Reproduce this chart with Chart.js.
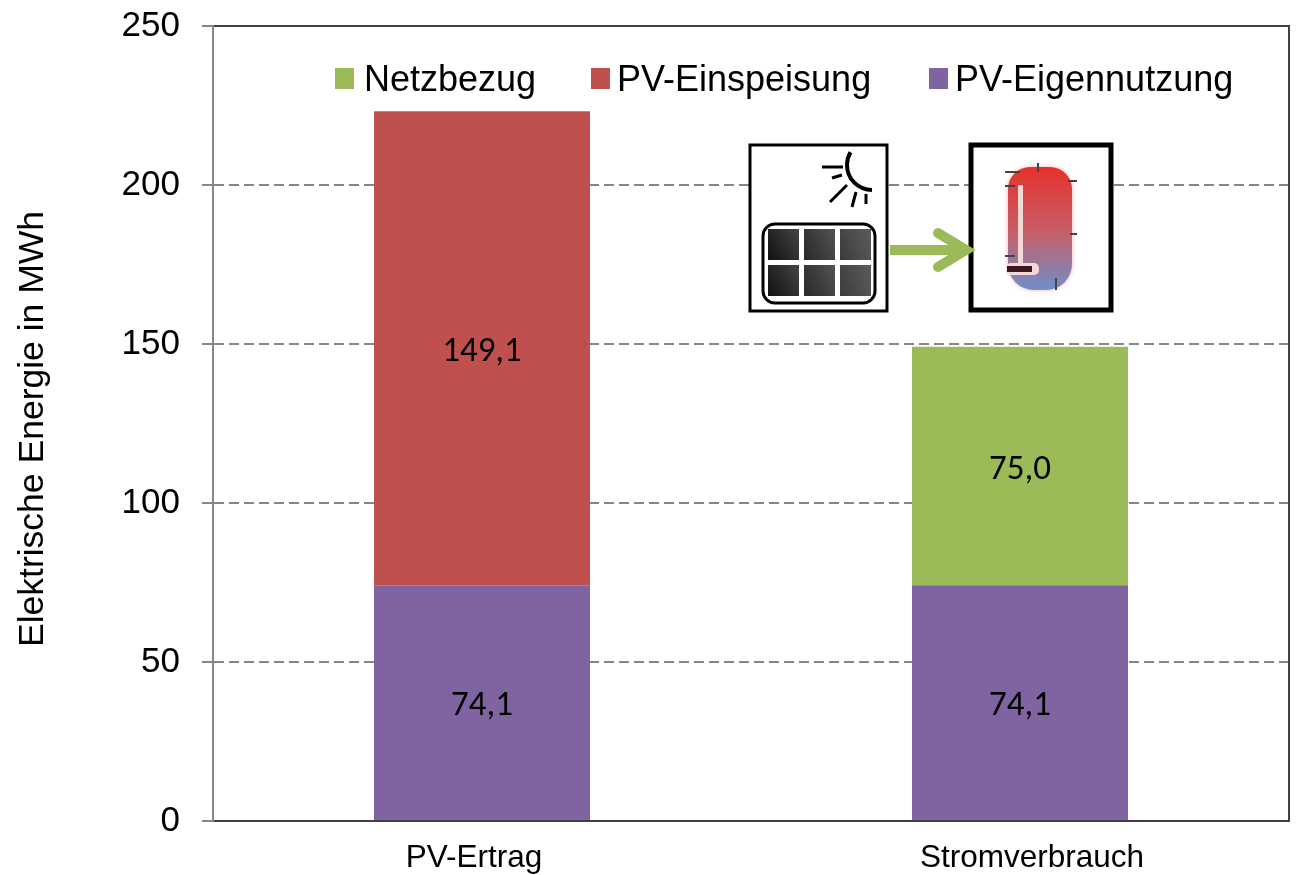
<!DOCTYPE html>
<html>
<head>
<meta charset="utf-8">
<style>
  html, body { margin: 0; padding: 0; background: #fff; }
  #wrap { position: relative; width: 1298px; height: 875px; }
</style>
<script src="https://cdn.jsdelivr.net/npm/chart.js@4/dist/chart.umd.js"></script>
</head>
<body>
<div id="wrap"><canvas id="energyChart" width="1298" height="875"></canvas></div>
<script>
const categories = ['PV-Ertrag', 'Stromverbrauch'];
const eigennutzung = [74.1, 74.1];
const einspeisung = [149.1, null];
const netzbezug = [null, 75.0];
const yTicks = [0, 50, 100, 150, 200, 250];
const yTitle = 'Elektrische Energie in MWh';

const ARIAL = '"Liberation Sans", Arial, sans-serif';
const GRID = '#868686';
const DARK = '#404040';

// y title sits below the middle of the axis and the x labels are off centre
// in the picture, the native title and ticks can't do that
const axisText = {
  id: 'axisText',
  afterDraw(chart) {
    const ctx = chart.ctx;
    const shift = [-8, 12];
    ctx.save();
    ctx.fillStyle = '#000';
    ctx.textAlign = 'center';
    ctx.textBaseline = 'middle';
    ctx.font = '31.5px ' + ARIAL;
    categories.forEach(function (name, i) {
      ctx.fillText(name, chart.scales.x.getPixelForTick(i) + shift[i], 858);
    });
    ctx.font = '35.5px ' + ARIAL;
    ctx.translate(33, 429);
    ctx.rotate(-Math.PI / 2);
    ctx.fillText(yTitle, 0, 0);
    ctx.restore();
  }
};

// right side of the plot frame
const frame = {
  id: 'frame',
  beforeDatasetsDraw(chart) {
    const a = chart.chartArea;
    const ctx = chart.ctx;
    ctx.save();
    ctx.strokeStyle = DARK;
    ctx.lineWidth = 2;
    ctx.beginPath();
    ctx.moveTo(a.right, a.top - 1);
    ctx.lineTo(a.right, a.bottom + 1);
    ctx.stroke();
    ctx.restore();
  }
};

// legend order in the picture is reversed from the stacking order
const legendPlugin = {
  id: 'topLegend',
  afterDraw(chart) {
    const ctx = chart.ctx;
    const items = [
      { ds: 2, box: 335, text: 364 },
      { ds: 1, box: 591, text: 617 },
      { ds: 0, box: 929, text: 955 }
    ];
    ctx.save();
    ctx.font = '36px ' + ARIAL;
    ctx.textBaseline = 'middle';
    ctx.textAlign = 'left';
    items.forEach(function (it) {
      const ds = chart.data.datasets[it.ds];
      ctx.fillStyle = ds.backgroundColor;
      ctx.fillRect(it.box, 68, 19, 21);
      ctx.fillStyle = '#000';
      ctx.fillText(ds.label, it.text, 81);
    });
    ctx.restore();
  }
};

// value labels in the middle of each bar segment, with decimal comma
const valueLabels = {
  id: 'valueLabels',
  afterDatasetsDraw(chart) {
    const ctx = chart.ctx;
    ctx.save();
    ctx.font = '35px Carlito, "Open Sans", sans-serif';
    ctx.fillStyle = '#000';
    ctx.textAlign = 'center';
    ctx.textBaseline = 'middle';
    chart.data.datasets.forEach(function (ds, i) {
      chart.getDatasetMeta(i).data.forEach(function (bar, j) {
        if (ds.data[j] == null) return;
        const mid = (bar.y + bar.base) / 2;
        ctx.fillText(ds.data[j].toFixed(1).replace('.', ','), bar.x, mid + 4);
      });
    });
    ctx.restore();
  }
};

// sun/panel and storage tank pictogram
const pictogram = {
  id: 'pictogram',
  afterDraw(chart) {
    const ctx = chart.ctx;
    ctx.save();

    ctx.fillStyle = '#fff';
    ctx.strokeStyle = '#000';
    ctx.lineWidth = 3;
    ctx.fillRect(750, 145, 137, 166);
    ctx.strokeRect(750, 145, 137, 166);

    // sun
    ctx.lineWidth = 4;
    ctx.beginPath();
    ctx.arc(872, 165, 25, Math.PI * 0.5, Math.PI * 1.17);
    ctx.stroke();
    ctx.lineWidth = 3;
    [[822, 167, 843, 167], [832, 178, 842, 175], [830, 202, 847, 185], [852, 207, 856, 192], [866, 204, 866, 194]].forEach(function (l) {
      ctx.beginPath();
      ctx.moveTo(l[0], l[1]);
      ctx.lineTo(l[2], l[3]);
      ctx.stroke();
    });

    // panel
    ctx.beginPath();
    ctx.roundRect(763, 224, 112, 79, 12);
    ctx.stroke();
    const cellX = [768, 804, 840];
    const cellY = [229, 265];
    cellY.forEach(function (y) {
      cellX.forEach(function (x, k) {
        const g = ctx.createLinearGradient(x - 10 - k * 30, y + 40, x + 60 - k * 10, y - 5);
        g.addColorStop(0, '#000');
        g.addColorStop(1, '#666');
        ctx.fillStyle = g;
        ctx.fillRect(x, y, 31, 31);
      });
    });

    // tank box
    ctx.fillStyle = '#fff';
    ctx.fillRect(971, 145, 140, 165);
    ctx.strokeStyle = '#000';
    ctx.lineWidth = 5;
    ctx.strokeRect(971, 145, 140, 165);

    // arrow
    ctx.strokeStyle = '#9bbb59';
    ctx.lineWidth = 10;
    ctx.beginPath();
    ctx.moveTo(890, 250);
    ctx.lineTo(962, 250);
    ctx.stroke();
    ctx.lineCap = 'round';
    ctx.beginPath();
    ctx.moveTo(938, 233);
    ctx.lineTo(966, 250);
    ctx.lineTo(938, 267);
    ctx.stroke();
    ctx.lineCap = 'butt';

    // tank
    const tg = ctx.createLinearGradient(0, 166, 0, 290);
    tg.addColorStop(0, '#e8302a');
    tg.addColorStop(0.55, '#c4606a');
    tg.addColorStop(1, '#6f8fcb');
    ctx.fillStyle = tg;
    ctx.shadowColor = 'rgba(240,150,150,0.8)';
    ctx.shadowBlur = 4;
    ctx.beginPath();
    ctx.roundRect(1008, 167, 64, 123, [22, 22, 26, 26]);
    ctx.fill();
    ctx.shadowBlur = 0;
    ctx.fillStyle = '#f4d8d8';
    ctx.fillRect(1018, 185, 5, 78);
    ctx.beginPath();
    ctx.roundRect(1006, 263, 33, 12, 5);
    ctx.fill();
    ctx.fillStyle = '#3a1a1e';
    ctx.fillRect(1007, 266, 25, 6);
    ctx.strokeStyle = '#444';
    ctx.lineWidth = 2;
    [[1005, 172, 1020, 172], [1005, 186, 1015, 186], [1005, 256, 1015, 256], [1068, 181, 1077, 181], [1070, 234, 1077, 234], [1056, 278, 1056, 290], [1038, 163, 1038, 172]].forEach(function (l) {
      ctx.beginPath();
      ctx.moveTo(l[0], l[1]);
      ctx.lineTo(l[2], l[3]);
      ctx.stroke();
    });
    ctx.restore();
  }
};

new Chart(document.getElementById('energyChart'), {
  type: 'bar',
  data: {
    labels: categories,
    datasets: [
      { label: 'PV-Eigennutzung', data: eigennutzung, backgroundColor: '#8064a2' },
      { label: 'PV-Einspeisung', data: einspeisung, backgroundColor: '#c0504d' },
      { label: 'Netzbezug', data: netzbezug, backgroundColor: '#9bbb59' }
    ]
  },
  options: {
    responsive: false,
    animation: false,
    layout: { padding: { left: 0, right: 9, top: 26, bottom: 0 } },
    plugins: {
      legend: { display: false },
      tooltip: { enabled: false }
    },
    datasets: { bar: { categoryPercentage: 0.4015, barPercentage: 1 } },
    scales: {
      x: {
        stacked: true,
        afterFit(axis) {
          axis.height = 54;
          axis.paddingLeft = 0;
          axis.paddingRight = 0;
        },
        grid: { display: false },
        border: { color: DARK, width: 2 },
        ticks: { display: false }
      },
      y: {
        stacked: true,
        min: 0,
        max: 250,
        afterFit(axis) {
          axis.width = 213;
          axis.paddingTop = 0;
          axis.paddingBottom = 0;
        },
        afterBuildTicks(axis) {
          axis.ticks = yTicks.map(function (v) { return { value: v }; });
        },
        grid: {
          color: function (c) {
            return (c.tick.value === 0 || c.tick.value === 250) ? DARK : GRID;
          },
          tickColor: GRID,
          lineWidth: 2,
          tickLength: 11,
          tickBorderDash: []
        },
        border: {
          color: GRID,
          width: 2,
          dash: function (c) {
            return (c.tick && (c.tick.value === 0 || c.tick.value === 250)) ? [] : [10, 5];
          }
        },
        ticks: { color: '#000', font: { family: ARIAL, size: 35 }, padding: 22 }
      }
    }
  },
  plugins: [frame, axisText, legendPlugin, valueLabels, pictogram]
});
</script>
</body>
</html>
